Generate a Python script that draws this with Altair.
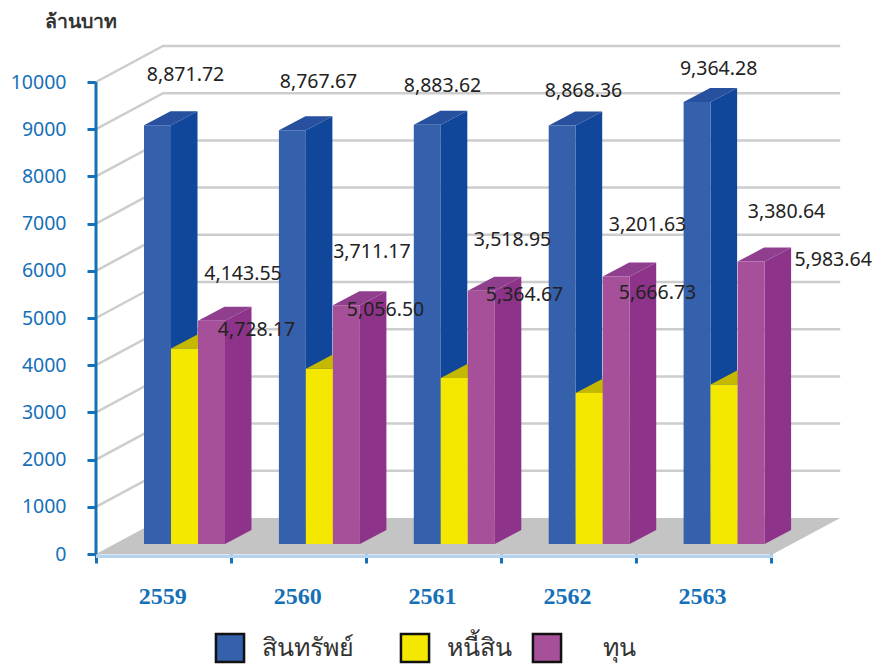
import altair as alt
import pandas as pd

# ---------- values ----------
years = ["2559", "2560", "2561", "2562", "2563"]
assets = [8871.72, 8767.67, 8883.62, 8868.36, 9364.28]
liabilities = [4143.55, 3711.17, 3518.95, 3201.63, 3380.64]
equity = [4728.17, 5056.50, 5364.67, 5666.73, 5983.64]
series_names = ["สินทรัพย์", "หนี้สิน", "ทุน"]
y_ticks = [0, 1000, 2000, 3000, 4000, 5000, 6000, 7000, 8000, 9000, 10000]
unit_label = "ล้านบาท"

# ---------- layout ----------
PX_U = 134.9       # pixels per category
PX_V = 0.0472      # pixels per value unit
W, H = 744, 508
U_MAX = W / PX_U
V_MAX = H / PX_V
WALL_DU, WALL_DV = 67 / PX_U, 36 / PX_V
BAR_U0, BAR_W = 48 / PX_U, 27 / PX_U
BAR_DU, BAR_DV = 26.5 / PX_U, 14 / PX_V
BASE_V = 10 / PX_V
END_U = 5.02

BLUE = "#1570b8"
X = alt.X("x:Q", scale=alt.Scale(domain=[0, U_MAX], nice=False, zero=False), title=None,
          axis=alt.Axis(values=[0, 1, 2, 3, 4, 5], labels=False, domain=False, grid=False,
                        tickSize=9, tickWidth=3, tickColor=BLUE))
Y = alt.Y("y:Q", scale=alt.Scale(domain=[0, V_MAX], nice=False, zero=False), title=None, stack=None,
          axis=alt.Axis(values=y_ticks, domain=False, grid=False, tickSize=9, tickWidth=3, tickColor=BLUE,
                        labelColor=BLUE, labelFont="Noto Sans", labelFontSize=19.5, labelPadding=21,
                        format="d"))


def area(rows, color, **kw):
    return alt.Chart(pd.DataFrame(rows)).mark_area(color=color, clip=False, **kw).encode(
        x=X, y=Y, y2="y2:Q", detail="g:N")


def rule(rows, color, width):
    return alt.Chart(pd.DataFrame(rows)).mark_line(color=color, strokeWidth=width, clip=False).encode(
        x=X, y=Y, detail="g:N")


layers = []

# floor
layers.append(area([
    dict(g=0, x=0, y=0, y2=0),
    dict(g=0, x=WALL_DU, y=0, y2=WALL_DV),
    dict(g=0, x=END_U, y=0, y2=WALL_DV),
    dict(g=0, x=END_U + WALL_DU, y=WALL_DV, y2=WALL_DV),
], "#c4c4c4"))

# gridlines: side wall and back wall
grid_rows = []
for t in y_ticks[1:]:
    grid_rows += [dict(g=t, x=0, y=t), dict(g=t, x=WALL_DU, y=t + WALL_DV),
                  dict(g=t, x=END_U + WALL_DU, y=t + WALL_DV)]
layers.append(rule(grid_rows, "#cdcdcd", 2.5))

# axis lines
layers.append(rule([dict(g=0, x=0, y=0), dict(g=0, x=0, y=10000)], BLUE, 3))
layers.append(rule([dict(g=0, x=0, y=-50), dict(g=0, x=END_U, y=-50)], "#b5d3ee", 3.5))

# bars
styles = [
    (assets, "#3560ab", "#10479a", "#27519f"),
    (liabilities, "#f5e800", "#c9bc00", "#c4b800"),
    (equity, "#a55098", "#8e338a", "#8f3f8e"),
]
for s, (vals, front, side, top) in enumerate(styles):
    side_rows, top_rows, front_rows = [], [], []
    for i, v in enumerate(vals):
        x0 = i + BAR_U0 + s * BAR_W
        x1 = x0 + BAR_W
        b, t = BASE_V, BASE_V + v
        side_rows += [dict(g=i, x=x1, y=b, y2=t),
                      dict(g=i, x=x1 + BAR_DU, y=b + BAR_DV, y2=t + BAR_DV)]
        top_rows += [dict(g=i, x=x0, y=t, y2=t),
                     dict(g=i, x=x0 + BAR_DU, y=t, y2=t + BAR_DV),
                     dict(g=i, x=x1, y=t, y2=t + BAR_DV),
                     dict(g=i, x=x1 + BAR_DU, y=t + BAR_DV, y2=t + BAR_DV)]
        front_rows += [dict(g=i, x=x0, y=b, y2=t), dict(g=i, x=x1, y=b, y2=t)]
    layers += [area(side_rows, side), area(top_rows, top), area(front_rows, front)]

# data labels: hand-placed in the source, so each has a nudge from its bar's top (pixels)
nudges = [
    [(28, -50), (26.1, -48), (15.2, -38.7), (21.3, -34), (21.5, -33)],
    [(58.5, -74.4), (52.5, -116.8), (58.2, -137.9), (58.3, -167.9), (62.4, -172.4)],
    [(45, 9.2), (39.1, 4.7), (43.2, 4.2), (41.3, 16.5), (82, -1.6)],
]
label_rows = []
for s, (vals, *_rest) in enumerate(styles):
    for i, v in enumerate(vals):
        nx, ny = nudges[s][i]
        label_rows.append(dict(
            x=i + BAR_U0 + (s + 0.5) * BAR_W + nx / PX_U,
            y=BASE_V + v - ny / PX_V,
            t=f"{v:,.2f}"))
layers.append(alt.Chart(pd.DataFrame(label_rows)).mark_text(
    font="Noto Sans", fontSize=19.5, color="#222222", align="center", baseline="middle", clip=False
).encode(x=X, y=Y, text="t:N"))

# category labels
layers.append(alt.Chart(pd.DataFrame(
    [dict(x=i + 0.495, y=-911, t=yr) for i, yr in enumerate(years)]
)).mark_text(font="Liberation Serif", fontWeight="bold", fontSize=24, color=BLUE,
             align="center", baseline="middle").encode(x=X, y=Y, text="t:N"))

# unit label
layers.append(alt.Chart(pd.DataFrame([dict(x=-51 / PX_U, y=532 / PX_V, t=unit_label)])).mark_text(
    font="Noto Sans", fontWeight="bold", fontSize=19.5, color="#333333", align="left", baseline="middle"
).encode(x=X, y=Y, text="t:N"))

# legend
leg_box_x = [134, 319, 451]
leg_text_x = [166, 351, 507]
leg_colors = ["#3560ab", "#f5e800", "#a55098"]
leg_v = -94 / PX_V
for bx, tx, c, name in zip(leg_box_x, leg_text_x, leg_colors, series_names):
    layers.append(alt.Chart(pd.DataFrame([dict(x=bx / PX_U, y=leg_v)])).mark_square(
        size=790, color=c, stroke="#111111", strokeWidth=2.5, opacity=1, clip=False
    ).encode(x=X, y=Y))
    layers.append(alt.Chart(pd.DataFrame([dict(x=tx / PX_U, y=leg_v, t=name)])).mark_text(
        font="Noto Sans", fontSize=25, color="#333333", align="left", baseline="middle", clip=False
    ).encode(x=X, y=Y, text="t:N"))

chart = alt.layer(*layers).properties(
    width=W, height=H,
    autosize=alt.AutoSizeParams(type="none"),
    padding={"left": 88, "top": 38, "right": 33, "bottom": 110},
    background="white",
).configure_view(stroke=None)

chart.save("out.html", embed_options={"renderer": "svg", "actions": False})
